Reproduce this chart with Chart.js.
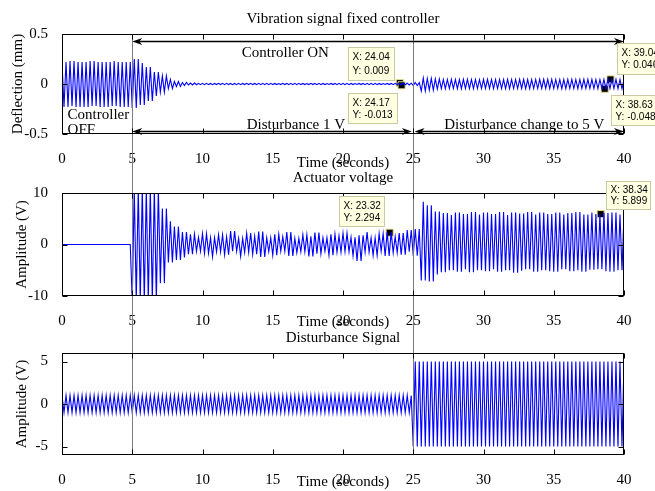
<!DOCTYPE html>
<html>
<head>
<meta charset="utf-8">
<title>Vibration signal fixed controller</title>
<script src="https://cdn.jsdelivr.net/npm/chart.js@4.4.1/dist/chart.umd.min.js"></script>
<style>
  html, body { margin: 0; padding: 0; background: #fff; }
  #fig { position: relative; width: 655px; height: 491px; overflow: hidden; }
  #fig canvas { position: absolute; left: 0; }
</style>
</head>
<body>
<div id="fig">
  <canvas id="defl" width="655" height="172" style="top:0;width:655px;height:172px"></canvas>
  <canvas id="act" width="655" height="159" style="top:172px;width:655px;height:159px"></canvas>
  <canvas id="dist" width="655" height="160" style="top:331px;width:655px;height:160px"></canvas>
</div>
<script>
// envelope readings every half second (0 .. 40 s), peaks alternate upper/lower
const envStep = 0.5;
const halfCycle = 1 / 7; // all three traces swing at roughly 3.5 Hz
const xTicks = [0, 5, 10, 15, 20, 25, 30, 35, 40];
const eventTimes = [5, 25]; // controller switched on, disturbance raised

// --- deflection (mm)
const deflTicks = [-0.5, 0, 0.5];
const deflUpper = [
  0.22, 0.23, 0.22, 0.22, 0.23, 0.22, 0.22, 0.23, 0.22, 0.22,
  0.25, 0.21, 0.17, 0.12, 0.08, 0.045, 0.025, 0.015, 0.01, 0.007,
  0.006, 0.005, 0.007, 0.006, 0.005, 0.006, 0.007, 0.005, 0.006, 0.006,
  0.005, 0.007, 0.006, 0.006, 0.005, 0.007, 0.006, 0.005, 0.006, 0.007,
  0.006, 0.005, 0.006, 0.007, 0.006, 0.005, 0.006, 0.007, 0.008, 0.008,
  0.015, 0.06, 0.055, 0.05, 0.045, 0.047, 0.044, 0.046, 0.045, 0.043,
  0.046, 0.045, 0.044, 0.047, 0.045, 0.046, 0.044, 0.045, 0.047, 0.046,
  0.045, 0.044, 0.046, 0.045, 0.047, 0.046, 0.045, 0.046, 0.046, 0.045,
  0.045
];
const deflLower = [
  -0.23, -0.22, -0.23, -0.23, -0.22, -0.23, -0.23, -0.22, -0.23, -0.23,
  -0.24, -0.21, -0.17, -0.12, -0.08, -0.045, -0.025, -0.015, -0.01, -0.007,
  -0.006, -0.007, -0.005, -0.006, -0.007, -0.006, -0.005, -0.006, -0.007, -0.006,
  -0.006, -0.005, -0.007, -0.006, -0.006, -0.005, -0.007, -0.006, -0.005, -0.006,
  -0.007, -0.006, -0.005, -0.006, -0.007, -0.006, -0.005, -0.006, -0.008, -0.01,
  -0.015, -0.07, -0.06, -0.05, -0.046, -0.045, -0.047, -0.044, -0.046, -0.045,
  -0.044, -0.046, -0.045, -0.047, -0.045, -0.044, -0.046, -0.045, -0.044, -0.046,
  -0.045, -0.047, -0.045, -0.046, -0.044, -0.045, -0.046, -0.048, -0.045, -0.046,
  -0.045
];
const deflTips = [[24.04, 0.009], [24.17, -0.013], [39.04, 0.046], [38.63, -0.048]];

// --- actuator voltage (V)
const actTicks = [-10, 0, 10];
const actUpper = [
  0, 0, 0, 0, 0, 0, 0, 0, 0, 0,
  11, 11, 11, 11, 7, 4.5, 3.5, 2.4, 2.0, 1.4,
  2.1, 1.3, 1.9, 1.5, 2.6, 1.2, 2.2, 1.6, 2.5, 1.3,
  2.0, 1.5, 2.4, 1.2, 1.9, 1.6, 2.3, 1.3, 2.0, 1.7,
  2.2, 1.4, 1.8, 2.4, 1.3, 2.1, 2.4, 1.5, 2.2, 2.8,
  3.0, 8.3, 7.6, 6.4, 6.1, 5.7, 6.2, 5.9, 6.3, 5.8,
  6.2, 5.9, 6.3, 5.7, 6.2, 6.0, 6.3, 5.8, 6.2, 5.9,
  6.2, 5.8, 6.1, 6.3, 5.8, 6.2, 5.9, 6.1, 6.2, 5.8,
  5.9
];
const actLower = [
  0, 0, 0, 0, 0, 0, 0, 0, 0, 0,
  -11, -11, -11, -11, -7.5, -3.5, -3.0, -2.5, -1.9, -1.3,
  -1.7, -2.4, -1.4, -2.0, -1.3, -2.3, -1.5, -1.9, -2.4, -1.4,
  -2.1, -1.3, -2.2, -1.6, -1.4, -2.3, -1.8, -1.3, -2.1, -1.5,
  -1.4, -2.2, -3.2, -1.5, -2.1, -1.3, -2.2, -1.6, -2.0, -1.4,
  -2.2, -7.0, -7.2, -5.8, -5.4, -5.0, -5.3, -4.8, -5.4, -5.0,
  -5.2, -4.8, -5.3, -5.0, -5.5, -5.1, -4.8, -5.3, -5.0, -5.2,
  -5.3, -4.8, -5.2, -5.0, -5.3, -4.9, -4.8, -5.2, -5.3, -5.0,
  -5.0
];
const actTips = [[23.32, 2.294], [38.34, 5.899]];

// --- disturbance signal (V), symmetric amplitude
const distTicks = [-5, 0, 5];
const distAmp = [
  1, 1, 1, 1, 1, 1, 1, 1, 1, 1,
  1, 1, 1, 1, 1, 1, 1, 1, 1, 1,
  1, 1, 1, 1, 1, 1, 1, 1, 1, 1,
  1, 1, 1, 1, 1, 1, 1, 1, 1, 1,
  1, 1, 1, 1, 1, 1, 1, 1, 1, 1,
  5, 5, 5, 5, 5, 5, 5, 5, 5, 5,
  5, 5, 5, 5, 5, 5, 5, 5, 5, 5,
  5, 5, 5, 5, 5, 5, 5, 5, 5, 5,
  5
];

// annotations on the deflection plot (data coordinates)
const deflArrows = [[5, 40, 0.433], [5, 24.9, -0.47], [25.1, 40, -0.47]];
const deflNotes = [
  ['Controller ON', 15.9, 0.31, 'center'],
  ['Disturbance 1 V', 16.65, -0.41, 'center'],
  ['Disturbance change to 5 V', 32.9, -0.41, 'center'],
  ['Controller', 0.4, -0.31, 'left'],
  ['OFF', 0.4, -0.46, 'left']
];

const serif = '"Liberation Serif", "Times New Roman", serif';
const sans = '"Liberation Sans", Arial, sans-serif';

const panels = {
  defl: {
    title: 'Vibration signal fixed controller', yTitle: 'Deflection (mm)',
    yMin: -0.5, yMax: 0.5, yTicks: deflTicks, upper: deflUpper, lower: deflLower,
    tips: deflTips, tipBoxes: [[-52, -36, 46, 33], [-54, 8, 49, 30], [6, -36, 46, 31], [6, 6, 50, 30]],
    top: 34, axisH: 38, yTitlePad: 9, lineTop: 'area', lineBottom: 'canvas',
    arrows: deflArrows, notes: deflNotes
  },
  act: {
    title: 'Actuator voltage', yTitle: 'Amplitude (V)',
    yMin: -10, yMax: 10, yTicks: actTicks, upper: actUpper, lower: actLower,
    tips: actTips, tipBoxes: [[-51, -37, 45, 30], [5, -33, 44, 28]],
    top: 21, axisH: 35, yTitlePad: 13, lineTop: 'canvas', lineBottom: 'canvas',
    arrows: [], notes: []
  },
  dist: {
    title: 'Disturbance Signal', yTitle: 'Amplitude (V)',
    yMin: -6, yMax: 6, yTicks: distTicks, upper: distAmp, lower: distAmp.map(v => -v),
    tips: [], tipBoxes: [],
    top: 22, axisH: 36, yTitlePad: 13, lineTop: 'canvas', lineBottom: 'area',
    arrows: [], notes: []
  }
};

function peakTrace(upper, lower) {
  const pts = [];
  const n = Math.round(40 / halfCycle);
  for (let k = 0; k <= n; k++) {
    const t = k * halfCycle;
    const i = Math.min(upper.length - 1, Math.floor(t / envStep + 1e-6));
    pts.push({ x: t, y: k % 2 === 0 ? upper[i] : lower[i] });
  }
  return pts;
}

function arrowHead(ctx, x, y, dir) {
  const len = 10, half = 3.5, notch = 3;
  ctx.beginPath();
  ctx.moveTo(x, y);
  ctx.lineTo(x - dir * len, y - half);
  ctx.lineTo(x - dir * (len - notch), y);
  ctx.lineTo(x - dir * len, y + half);
  ctx.closePath();
  ctx.fill();
}

const decor = {
  id: 'decor',
  afterDraw(chart) {
    const p = panels[chart.canvas.id];
    const { ctx, chartArea: a } = chart;
    const xs = chart.scales.x, ys = chart.scales.y;
    ctx.save();

    // event markers running through all subplots
    ctx.strokeStyle = '#7c7c7c';
    ctx.lineWidth = 1;
    eventTimes.forEach(t => {
      const px = Math.round(xs.getPixelForValue(t)) + 0.5;
      ctx.beginPath();
      ctx.moveTo(px, p.lineTop === 'area' ? a.top : 0);
      ctx.lineTo(px, p.lineBottom === 'area' ? a.bottom : chart.height);
      ctx.stroke();
    });

    // axes box with inward ticks
    const L = Math.round(a.left) + 0.5, R = Math.round(a.right) - 0.5;
    const T = Math.round(a.top) + 0.5, B = Math.round(a.bottom) - 0.5;
    ctx.strokeStyle = '#000';
    ctx.strokeRect(L, T, R - L, B - T);
    ctx.beginPath();
    xTicks.forEach(v => {
      const px = Math.round(xs.getPixelForValue(v)) + 0.5;
      ctx.moveTo(px, B); ctx.lineTo(px, B - 5);
      ctx.moveTo(px, T); ctx.lineTo(px, T + 5);
    });
    p.yTicks.forEach(v => {
      const py = Math.round(ys.getPixelForValue(v)) + 0.5;
      ctx.moveTo(L, py); ctx.lineTo(L + 5, py);
      ctx.moveTo(R, py); ctx.lineTo(R - 5, py);
    });
    ctx.stroke();

    // subplot title
    ctx.fillStyle = '#000';
    ctx.font = '15px ' + serif;
    ctx.textAlign = 'center';
    ctx.textBaseline = 'middle';
    ctx.fillText(p.title, (a.left + a.right) / 2, a.top - 15);

    // arrows and notes
    ctx.lineWidth = 1.3;
    p.arrows.forEach(([x1, x2, yv]) => {
      const px1 = xs.getPixelForValue(x1), px2 = xs.getPixelForValue(x2);
      const py = Math.round(ys.getPixelForValue(yv)) + 0.5;
      ctx.beginPath();
      ctx.moveTo(px1 + 4, py); ctx.lineTo(px2 - 4, py);
      ctx.stroke();
      arrowHead(ctx, px1, py, -1);
      arrowHead(ctx, px2, py, 1);
    });
    p.notes.forEach(([text, xv, yv, align]) => {
      ctx.textAlign = align;
      ctx.fillText(text, xs.getPixelForValue(xv), ys.getPixelForValue(yv));
    });

    // data tips
    const meta = chart.getDatasetMeta(1);
    ctx.font = '10px ' + sans;
    ctx.textAlign = 'left';
    ctx.lineWidth = 1;
    p.tips.forEach(([tx, ty], i) => {
      const el = meta.data[i];
      const [dx, dy, w, h] = p.tipBoxes[i];
      const bx = Math.round(el.x + dx) + 0.5, by = Math.round(el.y + dy) + 0.5;
      ctx.fillStyle = '#ffffe1';
      ctx.fillRect(bx, by, w, h);
      ctx.strokeStyle = '#cdc8a4';
      ctx.strokeRect(bx, by, w, h);
      ctx.fillStyle = '#000';
      ctx.fillText('X: ' + tx, bx + 4, by + h * 0.31);
      ctx.fillText('Y: ' + ty, bx + 4, by + h * 0.71);
    });
    ctx.restore();
  }
};

function buildPanel(id) {
  const p = panels[id];
  const font = { family: serif, size: 15 };
  return new Chart(document.getElementById(id), {
    type: 'line',
    data: {
      datasets: [
        {
          data: peakTrace(p.upper, p.lower),
          borderColor: '#0000ff', borderWidth: 1.1,
          pointRadius: 0, tension: 0, fill: false
        },
        {
          data: p.tips.map(([x, y]) => ({ x, y })),
          showLine: false, pointStyle: 'rect', pointRadius: 5,
          pointBackgroundColor: '#000', pointBorderColor: '#e6dc8c', pointBorderWidth: 1
        }
      ]
    },
    options: {
      responsive: false,
      animation: false,
      events: [],
      parsing: false,
      normalized: true,
      layout: { padding: { left: 0, right: 31, top: p.top, bottom: 0 } },
      plugins: { legend: { display: false }, tooltip: { enabled: false } },
      scales: {
        x: {
          type: 'linear', min: 0, max: 40,
          afterBuildTicks: s => { s.ticks = xTicks.map(v => ({ value: v })); },
          afterFit: s => { s.height = p.axisH; },
          grid: { display: false }, border: { display: false },
          ticks: { font, color: '#000', padding: 8, maxRotation: 0, autoSkip: false, callback: v => String(v) },
          title: { display: true, text: 'Time (seconds)', font, color: '#000', padding: { top: 0, bottom: 0 } }
        },
        y: {
          type: 'linear', min: p.yMin, max: p.yMax,
          afterBuildTicks: s => { s.ticks = p.yTicks.map(v => ({ value: v })); },
          afterFit: s => { s.width = 62; },
          grid: { display: false }, border: { display: false },
          ticks: { font, color: '#000', padding: 6, autoSkip: false, callback: v => String(v) },
          title: { display: true, text: p.yTitle, font, color: '#000', padding: { top: p.yTitlePad, bottom: 0 } }
        }
      }
    },
    plugins: [decor]
  });
}

['defl', 'act', 'dist'].forEach(buildPanel);
</script>
</body>
</html>
